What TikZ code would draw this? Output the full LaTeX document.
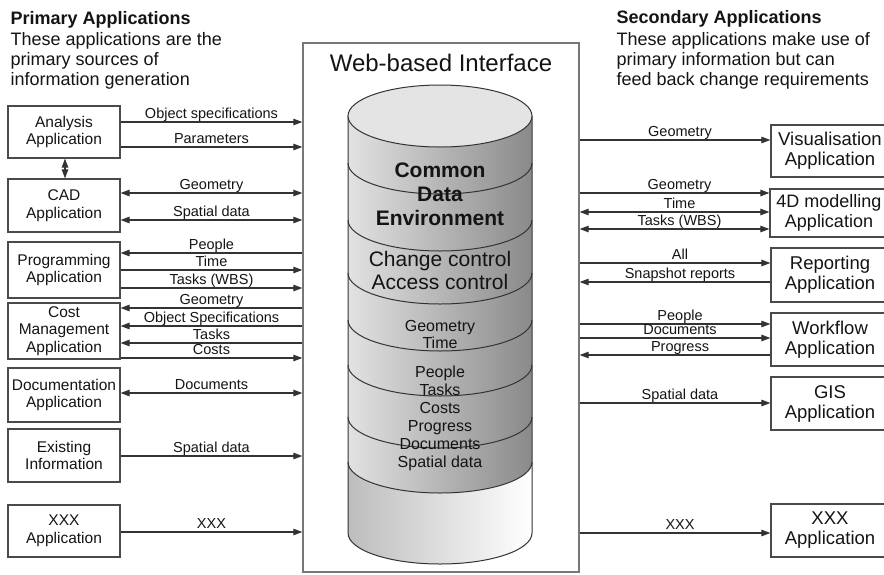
\documentclass[tikz,border=0pt]{standalone}
\usepackage{fontspec}
\setmainfont{Liberation Sans}
\usetikzlibrary{arrows.meta}
\definecolor{ln}{HTML}{333333}
\definecolor{boxc}{HTML}{4A4A4A}
\definecolor{webc}{HTML}{777777}
\definecolor{txt}{HTML}{141414}
\definecolor{cyltop}{HTML}{E4E4E4}
\definecolor{cylL}{HTML}{E2E2E2}
\definecolor{cylR}{HTML}{8A8A8A}
\definecolor{botL}{HTML}{BDBDBD}
\begin{document}
\begin{tikzpicture}[x=1pt,y=-1pt,
  >={Triangle[length=9pt,width=6.5pt]},
  conn/.style={draw=ln, line width=1.1pt},
  lbox/.style={draw=boxc, line width=1.2pt, fill=white, align=center, inner sep=0pt,
    minimum width=112pt, text=txt, font=\fontsize{15.5}{17.5}\selectfont},
  rbox/.style={draw=boxc, line width=1.2pt, fill=white, align=center, inner sep=0pt,
    minimum width=118pt, text=txt, font=\fontsize{18.5}{20}\selectfont},
  lbl/.style={font=\fontsize{14.5}{16}\selectfont, text=txt, inner sep=0pt, anchor=base, midway, yshift=4pt},
  rlbl/.style={lbl, xshift=5pt},
  hdr/.style={font=\fontsize{18}{20}\selectfont, text=txt, inner sep=0pt, anchor=base west},
  cyl/.style={text=txt, inner sep=0pt, align=center}
]
\path[use as bounding box, clip] (0,0) rectangle (884,574);
\fill[white] (0,0) rectangle (884,574);

% headers
\node[hdr, font=\fontsize{18}{20}\selectfont\bfseries] (ph1) at (10.5,24) {Primary Applications};
\node[hdr] (ph2) at (10.5,45) {These applications are the};
\node[hdr] (ph3) at (10.5,65) {primary sources of};
\node[hdr] (ph4) at (10.5,85) {information generation};
\node[hdr, font=\fontsize{18}{20}\selectfont\bfseries] (sh1) at (616.5,23) {Secondary Applications};
\node[hdr] (sh2) at (616.5,45) {These applications make use of};
\node[hdr] (sh3) at (616.5,65) {primary information but can};
\node[hdr] (sh4) at (616.5,85) {feed back change requirements};

% central box
\node[draw=webc, line width=1.3pt, fill=white, minimum width=276pt, minimum height=529pt, inner sep=0pt] (web) at (441,307.5) {};
\node[font=\fontsize{24}{26}\selectfont, text=txt, inner sep=0pt, anchor=base] (webt) at (441,71) {Web-based Interface};

% cylinder
\shade[left color=cylL, right color=cylR]
  (348,116) -- (348,533) arc[start angle=180, end angle=360, x radius=92pt, y radius=31pt] -- (532,116) -- cycle;
\shade[left color=botL, right color=white]
  (348,462) arc[start angle=180, end angle=360, x radius=92pt, y radius=31pt]
  -- (532,533) arc[start angle=0, end angle=-180, x radius=92pt, y radius=31pt] -- cycle;
\draw[ln, line width=1pt] (348,116) -- (348,533) arc[start angle=180, end angle=360, x radius=92pt, y radius=31pt] -- (532,116);
\draw[ln, line width=1pt, fill=cyltop] (440,116) ellipse[x radius=92pt, y radius=31pt];
\foreach \yy in {163,220,273,320,365,417,462}
  \draw[ln, line width=1pt] (348,\yy) arc[start angle=180, end angle=360, x radius=92pt, y radius=31pt];

\node[cyl, font=\fontsize{21}{24}\selectfont\bfseries] (cde) at (440,194.7) {Common\\Data\\Environment};
\node[cyl, font=\fontsize{21}{23}\selectfont] (ctl) at (440,270.2) {Change control\\Access control};
\node[cyl, font=\fontsize{16}{17.5}\selectfont] (gt) at (440,334.7) {Geometry\\Time};
\node[cyl, font=\fontsize{16}{18}\selectfont] (ptc) at (440,418.2) {People\\Tasks\\Costs\\Progress\\Documents\\Spatial data};

% left boxes
\node[lbox, minimum height=52pt] (anal) at (64,132) {Analysis\\Application};
\node[lbox, minimum height=53pt] (cad) at (64,205.5) {CAD\\Application};
\node[lbox, minimum height=56pt] (prog) at (64,270) {Programming\\Application};
\node[lbox, minimum height=56pt] (cost) at (64,331) {Cost\\Management\\Application};
\node[lbox, minimum height=54pt] (doc) at (64,395) {Documentation\\Application};
\node[lbox, minimum height=53pt] (exist) at (64,455.5) {Existing\\Information};
\node[lbox, minimum height=52pt] (xxxl) at (64,531) {XXX\\Application};

% right boxes
\node[rbox, minimum height=52pt] (vis) at (830,151) {Visualisation\\Application};
\node[rbox, minimum height=48pt, font=\fontsize{18}{20}\selectfont] (fourd) at (829,213) {4D modelling\\Application};
\node[rbox, minimum height=54pt] (rep) at (830,275) {Reporting\\Application};
\node[rbox, minimum height=53pt] (work) at (830,339.5) {Workflow\\Application};
\node[rbox, minimum height=53pt] (gis) at (830,403.5) {GIS\\Application};
\node[rbox, minimum height=53pt] (xxxr) at (830,530.5) {XXX\\Application};

% left connectors
\draw[conn,->] (anal.east |- 0,122) -- (web.west |- 0,122) node[lbl] (l1) {Object specifications};
\draw[conn,->] (anal.east |- 0,147) -- (web.west |- 0,147) node[lbl] (l2) {Parameters};
\draw[conn,<->] (anal.south -| 65,0) -- (cad.north -| 65,0);
\draw[conn,<->] (cad.east |- 0,193) -- (web.west |- 0,193) node[lbl] (l3) {Geometry};
\draw[conn,<->] (cad.east |- 0,220) -- (web.west |- 0,220) node[lbl] (l4) {Spatial data};
\draw[conn,<-] (prog.east |- 0,253) -- (web.west |- 0,253) node[lbl] (l5) {People};
\draw[conn,->] (prog.east |- 0,270) -- (web.west |- 0,270) node[lbl] (l6) {Time};
\draw[conn,->] (prog.east |- 0,288) -- (web.west |- 0,288) node[lbl] (l7) {Tasks (WBS)};
\draw[conn,<-] (cost.east |- 0,308) -- (web.west |- 0,308) node[lbl] (l8) {Geometry};
\draw[conn,<-] (cost.east |- 0,326) -- (web.west |- 0,326) node[lbl] (l9) {Object Specifications};
\draw[conn,<-] (cost.east |- 0,343) -- (web.west |- 0,343) node[lbl] (l10) {Tasks};
\draw[conn,->] (cost.east |- 0,358) -- (web.west |- 0,358) node[lbl] (l11) {Costs};
\draw[conn,<->] (doc.east |- 0,393) -- (web.west |- 0,393) node[lbl] (l12) {Documents};
\draw[conn,->] (exist.east |- 0,456) -- (web.west |- 0,456) node[lbl] (l13) {Spatial data};
\draw[conn,->] (xxxl.east |- 0,532) -- (web.west |- 0,532) node[lbl] (l14) {XXX};

% right connectors
\draw[conn,->] (web.east |- 0,140) -- (vis.west |- 0,140) node[rlbl] (r1) {Geometry};
\draw[conn,->] (web.east |- 0,193) -- (fourd.west |- 0,193) node[rlbl] (r2) {Geometry};
\draw[conn,<->] (web.east |- 0,212) -- (fourd.west |- 0,212) node[rlbl] (r3) {Time};
\draw[conn,<->] (web.east |- 0,229) -- (fourd.west |- 0,229) node[rlbl] (r4) {Tasks (WBS)};
\draw[conn,->] (web.east |- 0,263) -- (rep.west |- 0,263) node[rlbl] (r5) {All};
\draw[conn,<-] (web.east |- 0,282) -- (rep.west |- 0,282) node[rlbl] (r6) {Snapshot reports};
\draw[conn,->] (web.east |- 0,324) -- (work.west |- 0,324) node[rlbl] (r7) {People};
\draw[conn,->] (web.east |- 0,338) -- (work.west |- 0,338) node[rlbl] (r8) {Documents};
\draw[conn,<-] (web.east |- 0,355) -- (work.west |- 0,355) node[rlbl] (r9) {Progress};
\draw[conn,->] (web.east |- 0,403) -- (gis.west |- 0,403) node[rlbl] (r10) {Spatial data};
\draw[conn,->] (web.east |- 0,533) -- (xxxr.west |- 0,533) node[rlbl] (r11) {XXX};
\end{tikzpicture}
\end{document}
